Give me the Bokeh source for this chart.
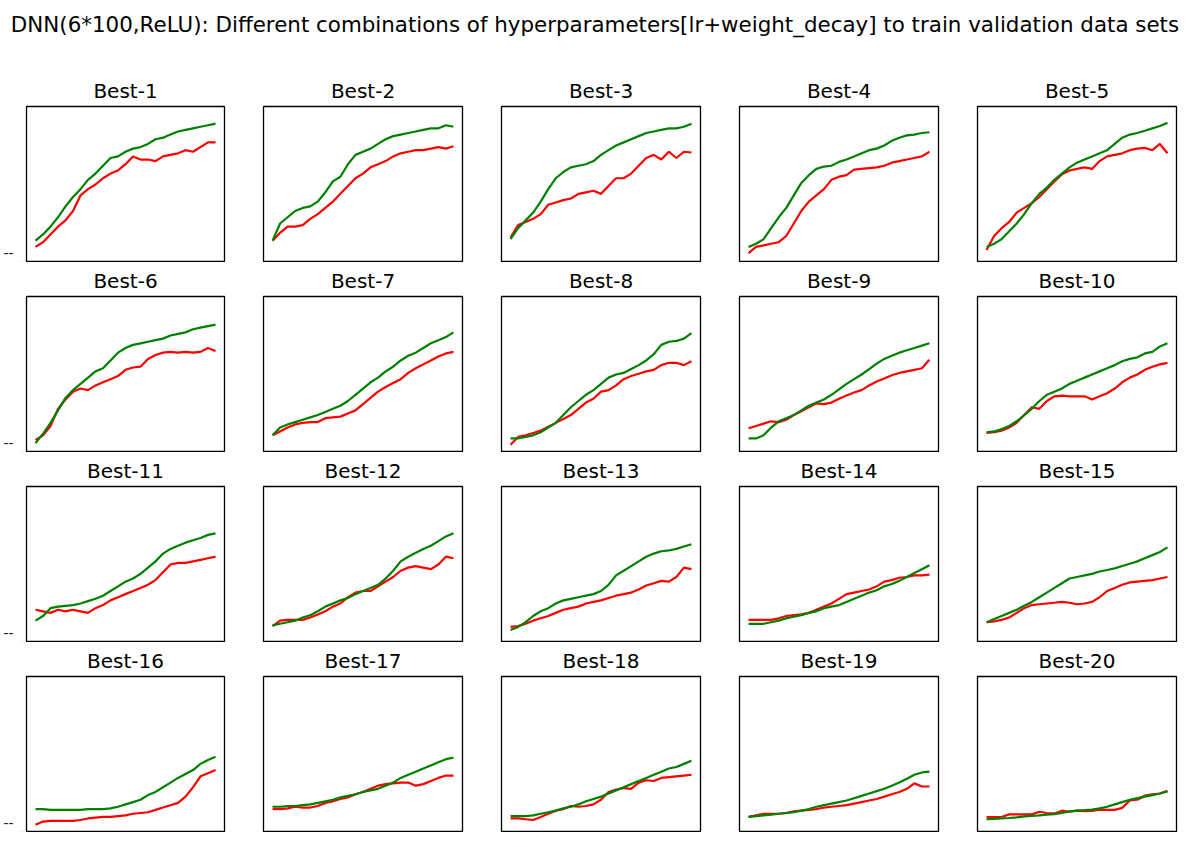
from bokeh.plotting import figure
from bokeh.layouts import gridplot, column
from bokeh.models import Range1d, LinearAxis, FixedTicker, Label
from bokeh.embed import file_html
from bokeh.resources import INLINE

SUPTITLE = "DNN(6*100,ReLU): Different combinations of hyperparameters[lr+weight_decay] to train validation data sets"
TITLES = ["Best-1", "Best-2", "Best-3", "Best-4", "Best-5",
          "Best-6", "Best-7", "Best-8", "Best-9", "Best-10",
          "Best-11", "Best-12", "Best-13", "Best-14", "Best-15",
          "Best-16", "Best-17", "Best-18", "Best-19", "Best-20"]
EPOCHS = list(range(25))
Y_TICK_LABEL = "--"

green_01 = [0.14, 0.18, 0.23, 0.29, 0.36, 0.42, 0.47, 0.53, 0.57, 0.62, 0.67, 0.68, 0.71, 0.73, 0.74, 0.76, 0.79, 0.80, 0.82, 0.84, 0.85, 0.86, 0.87, 0.88, 0.89]
red_01 = [0.10, 0.13, 0.18, 0.23, 0.27, 0.33, 0.43, 0.47, 0.50, 0.54, 0.57, 0.59, 0.63, 0.68, 0.66, 0.66, 0.65, 0.68, 0.69, 0.70, 0.72, 0.71, 0.74, 0.77, 0.77]
green_02 = [0.14, 0.25, 0.29, 0.33, 0.35, 0.36, 0.39, 0.45, 0.52, 0.55, 0.63, 0.69, 0.71, 0.73, 0.76, 0.79, 0.81, 0.82, 0.83, 0.84, 0.85, 0.86, 0.86, 0.88, 0.87]
red_02 = [0.14, 0.19, 0.23, 0.23, 0.24, 0.28, 0.31, 0.35, 0.39, 0.44, 0.49, 0.54, 0.57, 0.61, 0.63, 0.65, 0.68, 0.70, 0.71, 0.72, 0.72, 0.73, 0.74, 0.73, 0.745]
green_03 = [0.15, 0.22, 0.27, 0.32, 0.39, 0.47, 0.54, 0.58, 0.61, 0.62, 0.63, 0.65, 0.69, 0.72, 0.75, 0.77, 0.79, 0.81, 0.83, 0.84, 0.85, 0.86, 0.86, 0.87, 0.89]
red_03 = [0.16, 0.24, 0.26, 0.28, 0.31, 0.37, 0.385, 0.40, 0.41, 0.44, 0.45, 0.46, 0.44, 0.49, 0.54, 0.54, 0.57, 0.62, 0.67, 0.69, 0.66, 0.71, 0.67, 0.71, 0.705]
green_04 = [0.10, 0.12, 0.15, 0.22, 0.29, 0.35, 0.43, 0.51, 0.56, 0.60, 0.615, 0.62, 0.645, 0.66, 0.68, 0.70, 0.72, 0.73, 0.75, 0.78, 0.80, 0.815, 0.82, 0.83, 0.835]
red_04 = [0.06, 0.10, 0.11, 0.12, 0.13, 0.17, 0.25, 0.33, 0.39, 0.43, 0.47, 0.53, 0.55, 0.56, 0.595, 0.60, 0.605, 0.61, 0.62, 0.64, 0.65, 0.66, 0.67, 0.68, 0.71]
green_05 = [0.10, 0.12, 0.15, 0.20, 0.25, 0.31, 0.38, 0.44, 0.48, 0.53, 0.57, 0.61, 0.64, 0.66, 0.68, 0.70, 0.72, 0.76, 0.80, 0.82, 0.83, 0.845, 0.86, 0.875, 0.895]
red_05 = [0.08, 0.17, 0.22, 0.26, 0.32, 0.35, 0.38, 0.42, 0.47, 0.52, 0.565, 0.59, 0.60, 0.61, 0.60, 0.65, 0.68, 0.69, 0.70, 0.72, 0.73, 0.735, 0.72, 0.76, 0.70]
green_06 = [0.06, 0.12, 0.19, 0.27, 0.35, 0.40, 0.44, 0.48, 0.52, 0.54, 0.59, 0.64, 0.67, 0.69, 0.70, 0.71, 0.72, 0.73, 0.75, 0.76, 0.77, 0.79, 0.80, 0.81, 0.82]
red_06 = [0.08, 0.11, 0.17, 0.28, 0.34, 0.39, 0.41, 0.40, 0.43, 0.45, 0.47, 0.49, 0.53, 0.545, 0.55, 0.60, 0.625, 0.64, 0.645, 0.64, 0.645, 0.64, 0.645, 0.67, 0.65]
green_07 = [0.11, 0.16, 0.18, 0.195, 0.21, 0.225, 0.24, 0.26, 0.28, 0.30, 0.33, 0.37, 0.41, 0.45, 0.48, 0.52, 0.55, 0.59, 0.62, 0.64, 0.67, 0.70, 0.72, 0.74, 0.77]
red_07 = [0.11, 0.135, 0.16, 0.18, 0.19, 0.195, 0.195, 0.22, 0.225, 0.23, 0.25, 0.27, 0.31, 0.35, 0.39, 0.42, 0.445, 0.47, 0.51, 0.54, 0.565, 0.59, 0.615, 0.635, 0.645]
green_08 = [0.09, 0.09, 0.10, 0.11, 0.13, 0.16, 0.19, 0.24, 0.29, 0.33, 0.37, 0.40, 0.44, 0.48, 0.50, 0.51, 0.535, 0.56, 0.59, 0.63, 0.69, 0.71, 0.715, 0.73, 0.765]
red_08 = [0.05, 0.10, 0.11, 0.125, 0.14, 0.165, 0.19, 0.215, 0.24, 0.28, 0.32, 0.345, 0.39, 0.40, 0.43, 0.47, 0.49, 0.505, 0.52, 0.53, 0.56, 0.575, 0.575, 0.56, 0.585]
green_09 = [0.09, 0.09, 0.11, 0.16, 0.20, 0.22, 0.24, 0.27, 0.30, 0.32, 0.34, 0.37, 0.405, 0.44, 0.47, 0.50, 0.535, 0.57, 0.60, 0.62, 0.64, 0.655, 0.67, 0.685, 0.70]
red_09 = [0.155, 0.17, 0.185, 0.20, 0.195, 0.21, 0.24, 0.265, 0.29, 0.315, 0.31, 0.32, 0.345, 0.365, 0.385, 0.40, 0.43, 0.455, 0.475, 0.495, 0.51, 0.52, 0.53, 0.54, 0.595]
green_10 = [0.13, 0.135, 0.15, 0.17, 0.20, 0.24, 0.28, 0.33, 0.37, 0.39, 0.41, 0.44, 0.46, 0.48, 0.50, 0.52, 0.54, 0.56, 0.585, 0.60, 0.61, 0.635, 0.645, 0.68, 0.70]
red_10 = [0.125, 0.13, 0.14, 0.16, 0.19, 0.24, 0.29, 0.28, 0.33, 0.36, 0.365, 0.36, 0.36, 0.36, 0.34, 0.36, 0.38, 0.41, 0.45, 0.48, 0.50, 0.53, 0.55, 0.565, 0.575]
green_11 = [0.14, 0.17, 0.22, 0.23, 0.235, 0.24, 0.25, 0.265, 0.28, 0.30, 0.33, 0.36, 0.39, 0.41, 0.44, 0.48, 0.52, 0.57, 0.60, 0.62, 0.64, 0.655, 0.67, 0.69, 0.70]
red_11 = [0.21, 0.20, 0.19, 0.21, 0.20, 0.21, 0.20, 0.19, 0.22, 0.24, 0.27, 0.29, 0.31, 0.33, 0.35, 0.37, 0.40, 0.45, 0.50, 0.51, 0.51, 0.52, 0.53, 0.54, 0.55]
green_12 = [0.11, 0.12, 0.13, 0.14, 0.16, 0.175, 0.20, 0.23, 0.25, 0.27, 0.285, 0.31, 0.33, 0.35, 0.37, 0.41, 0.46, 0.52, 0.55, 0.575, 0.60, 0.62, 0.65, 0.68, 0.70]
red_12 = [0.105, 0.14, 0.145, 0.145, 0.145, 0.16, 0.18, 0.20, 0.23, 0.25, 0.29, 0.32, 0.33, 0.33, 0.36, 0.39, 0.42, 0.46, 0.48, 0.49, 0.48, 0.47, 0.50, 0.55, 0.54]
green_13 = [0.08, 0.10, 0.13, 0.17, 0.20, 0.22, 0.25, 0.27, 0.28, 0.29, 0.30, 0.31, 0.33, 0.37, 0.43, 0.46, 0.49, 0.52, 0.55, 0.57, 0.585, 0.59, 0.60, 0.615, 0.63]
red_13 = [0.10, 0.105, 0.12, 0.14, 0.155, 0.17, 0.19, 0.21, 0.22, 0.23, 0.25, 0.26, 0.27, 0.285, 0.30, 0.31, 0.32, 0.34, 0.365, 0.38, 0.395, 0.39, 0.42, 0.48, 0.47]
green_14 = [0.12, 0.12, 0.12, 0.13, 0.14, 0.155, 0.165, 0.175, 0.19, 0.20, 0.22, 0.23, 0.24, 0.26, 0.28, 0.30, 0.32, 0.335, 0.36, 0.375, 0.395, 0.42, 0.445, 0.47, 0.495]
red_14 = [0.145, 0.145, 0.145, 0.145, 0.155, 0.17, 0.175, 0.18, 0.19, 0.21, 0.23, 0.25, 0.28, 0.31, 0.32, 0.33, 0.34, 0.36, 0.39, 0.40, 0.415, 0.42, 0.43, 0.43, 0.435]
green_15 = [0.13, 0.15, 0.17, 0.19, 0.21, 0.235, 0.26, 0.29, 0.32, 0.35, 0.38, 0.41, 0.42, 0.43, 0.44, 0.455, 0.465, 0.475, 0.49, 0.505, 0.52, 0.54, 0.56, 0.58, 0.61]
red_15 = [0.13, 0.135, 0.145, 0.16, 0.19, 0.22, 0.24, 0.245, 0.25, 0.255, 0.26, 0.255, 0.245, 0.25, 0.26, 0.29, 0.33, 0.35, 0.37, 0.385, 0.39, 0.395, 0.40, 0.41, 0.42]
green_16 = [0.15, 0.15, 0.145, 0.145, 0.145, 0.145, 0.145, 0.15, 0.15, 0.15, 0.155, 0.165, 0.18, 0.195, 0.21, 0.24, 0.26, 0.29, 0.32, 0.35, 0.375, 0.40, 0.44, 0.465, 0.485]
red_16 = [0.05, 0.07, 0.075, 0.075, 0.075, 0.075, 0.08, 0.09, 0.095, 0.10, 0.10, 0.105, 0.11, 0.12, 0.125, 0.13, 0.145, 0.16, 0.175, 0.19, 0.23, 0.29, 0.36, 0.38, 0.40]
green_17 = [0.165, 0.165, 0.17, 0.17, 0.175, 0.18, 0.19, 0.20, 0.21, 0.225, 0.235, 0.245, 0.26, 0.27, 0.28, 0.30, 0.32, 0.35, 0.37, 0.39, 0.41, 0.43, 0.45, 0.47, 0.48]
red_17 = [0.15, 0.15, 0.155, 0.165, 0.16, 0.16, 0.17, 0.19, 0.20, 0.215, 0.225, 0.245, 0.26, 0.28, 0.30, 0.31, 0.315, 0.32, 0.32, 0.30, 0.31, 0.33, 0.35, 0.365, 0.365]
green_18 = [0.105, 0.105, 0.105, 0.11, 0.12, 0.13, 0.14, 0.155, 0.165, 0.18, 0.20, 0.215, 0.23, 0.25, 0.27, 0.29, 0.31, 0.33, 0.35, 0.37, 0.39, 0.41, 0.42, 0.44, 0.46]
red_18 = [0.09, 0.09, 0.085, 0.08, 0.10, 0.12, 0.14, 0.15, 0.17, 0.165, 0.17, 0.18, 0.21, 0.26, 0.275, 0.285, 0.28, 0.32, 0.335, 0.33, 0.35, 0.355, 0.36, 0.365, 0.37]
green_19 = [0.10, 0.105, 0.11, 0.115, 0.12, 0.125, 0.13, 0.14, 0.15, 0.165, 0.175, 0.185, 0.195, 0.205, 0.22, 0.235, 0.25, 0.265, 0.28, 0.30, 0.32, 0.345, 0.37, 0.385, 0.39]
red_19 = [0.10, 0.11, 0.12, 0.12, 0.12, 0.125, 0.135, 0.14, 0.145, 0.15, 0.16, 0.165, 0.17, 0.175, 0.185, 0.195, 0.205, 0.215, 0.23, 0.245, 0.26, 0.28, 0.315, 0.295, 0.295]
green_20 = [0.085, 0.087, 0.09, 0.093, 0.097, 0.103, 0.107, 0.11, 0.114, 0.118, 0.125, 0.135, 0.14, 0.143, 0.147, 0.155, 0.165, 0.18, 0.195, 0.21, 0.22, 0.23, 0.24, 0.25, 0.263]
red_20 = [0.099, 0.099, 0.099, 0.116, 0.116, 0.116, 0.116, 0.133, 0.125, 0.122, 0.14, 0.133, 0.14, 0.137, 0.138, 0.147, 0.145, 0.145, 0.158, 0.205, 0.21, 0.236, 0.244, 0.25, 0.267]

GREEN = [green_01, green_02, green_03, green_04, green_05, green_06, green_07, green_08, green_09, green_10,
         green_11, green_12, green_13, green_14, green_15, green_16, green_17, green_18, green_19, green_20]
RED = [red_01, red_02, red_03, red_04, red_05, red_06, red_07, red_08, red_09, red_10,
       red_11, red_12, red_13, red_14, red_15, red_16, red_17, red_18, red_19, red_20]

FONT = "DejaVu Sans"
n = len(EPOCHS) - 1
figs = []
for i, t in enumerate(TITLES):
    col = i % 5
    left = 25 if col == 0 else 18
    right = 5 if col == 4 else 21
    w = left + 199 + right
    p = figure(width=w, height=190, title=t, output_backend="svg", toolbar_location=None,
               x_range=Range1d(-0.05 * n, 1.05 * n), y_range=Range1d(0, 1),
               min_border_left=left, min_border_right=right,
               min_border_top=31, min_border_bottom=0,
               x_axis_location=None, y_axis_location=None)
    p.xgrid.visible = False
    p.ygrid.visible = False
    p.outline_line_color = "black"
    p.outline_line_width = 1.3
    p.outline_line_alpha = 1.0
    p.title.text_font = FONT
    p.title.text_font_size = "20px"
    p.title.text_font_style = "normal"
    p.title.text_color = "black"
    p.title.align = "center"
    p.title.standoff = 8
    p.line(EPOCHS, RED[i], line_color="red", line_width=2.2)
    p.line(EPOCHS, GREEN[i], line_color="green", line_width=2.2)
    if col == 0:
        ax = LinearAxis(ticker=FixedTicker(ticks=[0]), major_label_overrides={0: Y_TICK_LABEL},
                        axis_line_color=None, major_tick_out=7, major_tick_in=0,
                        major_tick_line_color="black", major_tick_line_width=1.1,
                        minor_tick_line_color=None,
                        major_label_standoff=6, major_label_text_font_size="14px",
                        major_label_text_font=FONT, major_label_text_color="#222222")
        p.add_layout(ax, "left")
    figs.append(p)

grid = gridplot(figs, ncols=5, toolbar_location=None)

tf = figure(width=1181, height=72, output_backend="svg", toolbar_location=None,
            x_range=Range1d(0, 1181), y_range=Range1d(0, 72), min_border=0,
            x_axis_location=None, y_axis_location=None)
tf.outline_line_color = None
tf.xgrid.visible = False
tf.ygrid.visible = False
tf.add_layout(Label(x=594.5, y=48.5, text=SUPTITLE, text_align="center", text_baseline="alphabetic",
                    text_font=FONT, text_font_size="21.4px", text_color="black"))

layout = column(tf, grid)
open("out.html", "w").write(file_html(layout, INLINE))
